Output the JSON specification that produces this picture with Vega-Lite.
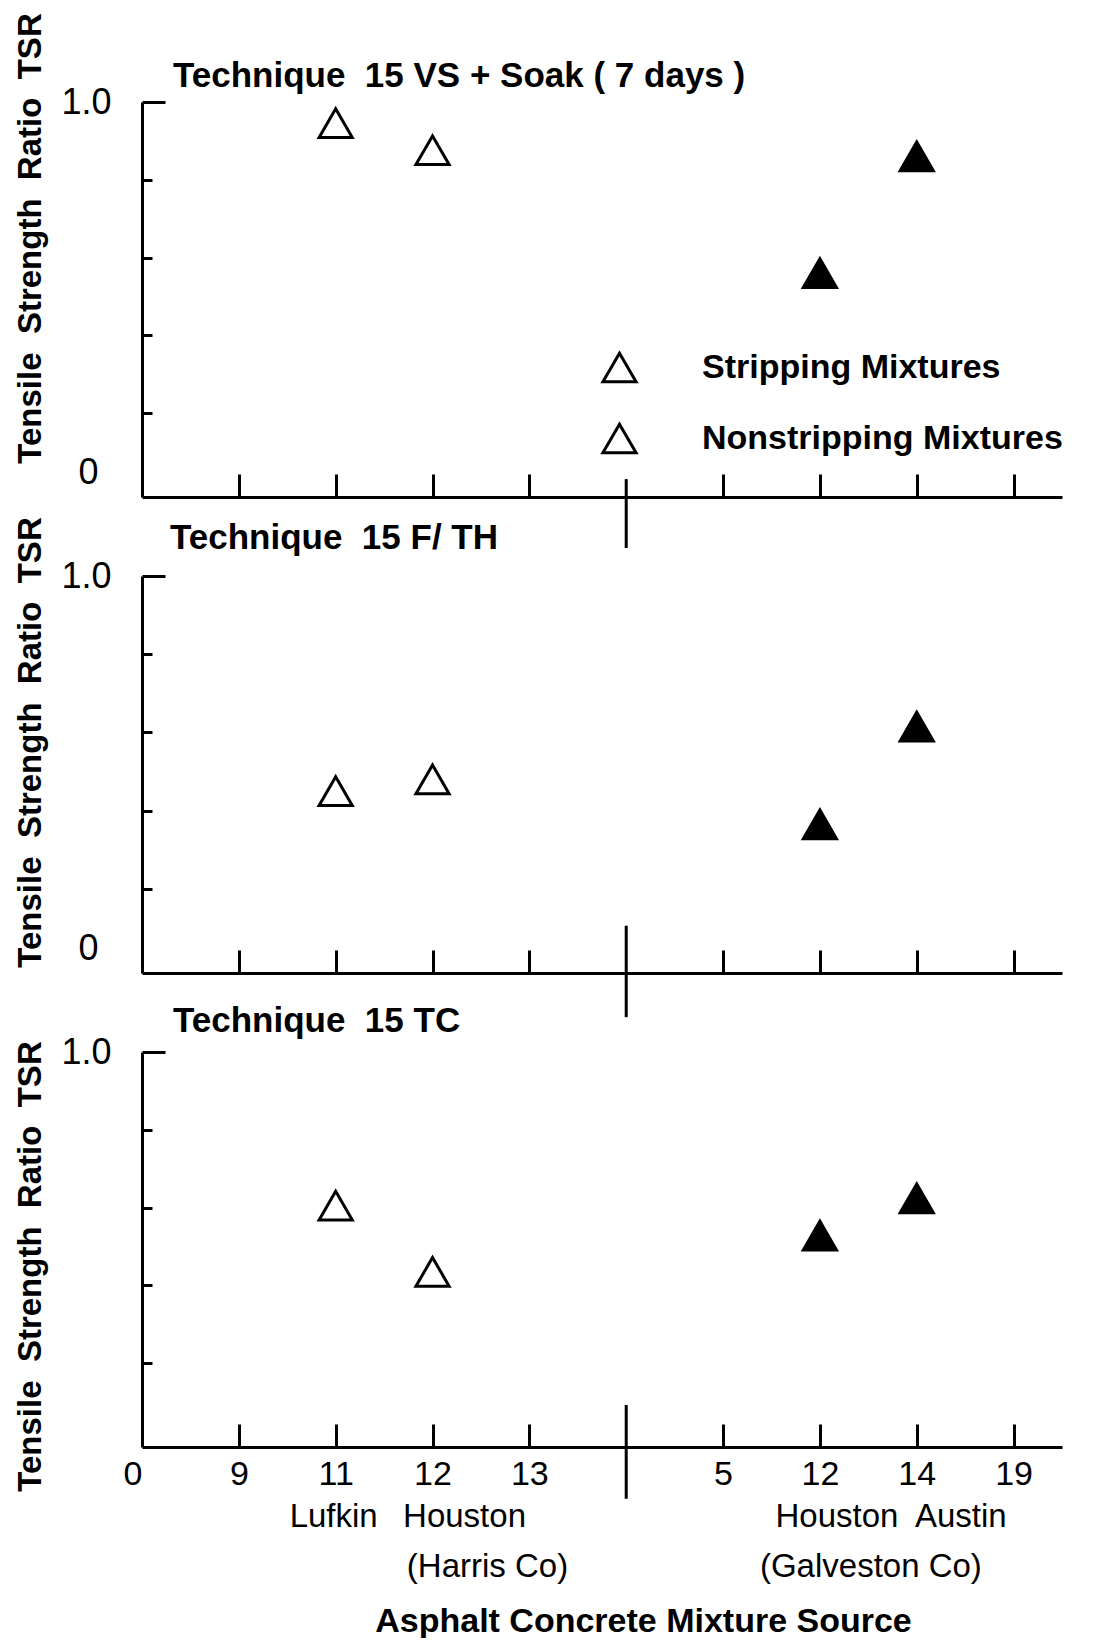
{
  "$schema": "https://vega.github.io/schema/vega-lite/v6.json",
  "background": "white",
  "padding": {"left": 13, "top": 12, "right": 0, "bottom": 0},
  "config": {
    "view": {"stroke": null},
    "font": "Liberation Sans",
    "axis": {"grid": false, "domainColor": "black", "domainWidth": 3, "tickColor": "black", "tickWidth": 3, "labelColor": "black", "titleColor": "black", "labelOverlap": false}
  },
  "datasets": {
    "tsr": [
      {"technique": "VS", "source": "L11", "tsr": 0.946, "mixture": "Stripping Mixtures", "stripping": "yes"},
      {"technique": "VS", "source": "L12", "tsr": 0.876, "mixture": "Stripping Mixtures", "stripping": "yes"},
      {"technique": "VS", "source": "R12", "tsr": 0.56, "mixture": "Nonstripping Mixtures", "stripping": "no"},
      {"technique": "VS", "source": "R14", "tsr": 0.86, "mixture": "Nonstripping Mixtures", "stripping": "no"},
      {"technique": "FTH", "source": "L11", "tsr": 0.45, "mixture": "Stripping Mixtures", "stripping": "yes"},
      {"technique": "FTH", "source": "L12", "tsr": 0.48, "mixture": "Stripping Mixtures", "stripping": "yes"},
      {"technique": "FTH", "source": "R12", "tsr": 0.365, "mixture": "Nonstripping Mixtures", "stripping": "no"},
      {"technique": "FTH", "source": "R14", "tsr": 0.615, "mixture": "Nonstripping Mixtures", "stripping": "no"},
      {"technique": "TC", "source": "L11", "tsr": 0.605, "mixture": "Stripping Mixtures", "stripping": "yes"},
      {"technique": "TC", "source": "L12", "tsr": 0.435, "mixture": "Stripping Mixtures", "stripping": "yes"},
      {"technique": "TC", "source": "R12", "tsr": 0.528, "mixture": "Nonstripping Mixtures", "stripping": "no"},
      {"technique": "TC", "source": "R14", "tsr": 0.624, "mixture": "Nonstripping Mixtures", "stripping": "no"}
    ],
    "places": [
      {"place": "Lufkin", "source": "L11"},
      {"place": "Houston", "source": "L12"},
      {"place": "Houston", "source": "R12"},
      {"place": "Austin", "source": "R14"}
    ],
    "counties": [
      {"county": "(Harris Co)", "source": "L12"},
      {"county": "(Galveston Co)", "source": "R12"}
    ]
  },
  "spacing": 79,
  "bounds": "flush",
  "resolve": {"scale": {"shape": "independent", "fill": "independent"}, "legend": {"shape": "independent", "fill": "independent"}},
  "vconcat": [
    {
      "width": 920,
      "height": 395,
      "layer": [
        {
          "data": {"name": "tsr"},
          "transform": [{"filter": "datum.technique == 'VS'"}],
          "mark": {"type": "point", "size": 1100, "filled": true, "stroke": "black", "strokeWidth": 3, "opacity": 1, "fillOpacity": 1, "strokeOpacity": 1},
          "encoding": {
            "x": {
              "field": "source", "type": "nominal",
              "scale": {"type": "point", "domain": ["O", "L9", "L11", "L12", "L13", "sep", "R5", "R12", "R14", "R19"], "padding": 0.25, "align": 0},
              "axis": {"labels": false, "title": null, "tickSize": -23, "tickOpacity": {"condition": {"test": "datum.value == 'O' || datum.value == 'sep'", "value": 0}, "value": 1}}
            },
            "y": {
              "field": "tsr", "type": "quantitative",
              "scale": {"domain": [-0.015, 1], "nice": false, "zero": false},
              "axis": {
                "values": [0, 0.1, 0.2, 0.3, 0.4, 0.5, 0.6, 0.7, 0.8, 0.9, 1],
                "tickSize": {"condition": {"test": "datum.value == 1 || datum.value == 0.5", "value": -23}, "value": -10},
                "tickOpacity": {"condition": {"test": "datum.value == 0", "value": 0}, "value": 1},
                "labelExpr": "datum.value == 1 ? '1.0' : datum.value == 0.5 ? '0.5' : datum.value == 0 ? '0' : ''",
                "labelFontSize": 36,
                "labelPadding": 54,
                "labelAlign": "right",
                "labelBaseline": {"condition": {"test": "datum.value == 0", "value": "bottom"}, "value": "middle"},
                "title": "Tensile\u00a0 Strength\u00a0 Ratio\u00a0 TSR",
                "titleFontSize": 33, "titleFontWeight": "bold",
                "titleAngle": 270, "titleX": -112, "titleY": 136, "titleBaseline": "middle", "titleAlign": "center"
              }
            },
            "shape": {
              "field": "mixture", "type": "nominal",
              "scale": {"domain": ["Stripping Mixtures", "Nonstripping Mixtures"], "range": ["triangle-up", "triangle-up"]},
              "legend": {
                "title": null, "orient": "none", "legendX": 459, "legendY": 247, "padding": 0,
                "symbolSize": 1100, "symbolStrokeWidth": 3, "symbolStrokeColor": "black", "symbolFillColor": "white",
                "labelFontSize": 34, "labelFontWeight": "bold", "labelColor": "black", "labelOffset": 64, "rowPadding": 30, "labelLimit": 600
              }
            },
            "fill": {
              "field": "stripping", "type": "nominal",
              "scale": {"domain": ["yes", "no"], "range": ["white", "black"]},
              "legend": null
            }
          }
        },
        {
          "data": {"values": [{}]},
          "mark": {"type": "rule", "color": "black", "strokeWidth": 3},
          "encoding": {"x": {"datum": "sep"}, "y": {"datum": -0.146}, "y2": {"datum": 0.031}}
        },
        {
          "data": {"values": [{}]},
          "mark": {"type": "text", "align": "left", "baseline": "middle", "dx": 31, "fontSize": 35, "fontWeight": "bold", "color": "black", "text": "Technique\u00a0 15 VS + Soak ( 7 days )"},
          "encoding": {"x": {"datum": "O"}, "y": {"datum": 1.067}}
        }
      ]
    },
    {
      "width": 920,
      "height": 397,
      "layer": [
        {
          "data": {"name": "tsr"},
          "transform": [{"filter": "datum.technique == 'FTH'"}],
          "mark": {"type": "point", "shape": "triangle-up", "size": 1100, "filled": true, "stroke": "black", "strokeWidth": 3, "opacity": 1, "fillOpacity": 1, "strokeOpacity": 1},
          "encoding": {
            "x": {
              "field": "source", "type": "nominal",
              "scale": {"type": "point", "domain": ["O", "L9", "L11", "L12", "L13", "sep", "R5", "R12", "R14", "R19"], "padding": 0.25, "align": 0},
              "axis": {"labels": false, "title": null, "tickSize": -23, "tickOpacity": {"condition": {"test": "datum.value == 'O' || datum.value == 'sep'", "value": 0}, "value": 1}}
            },
            "y": {
              "field": "tsr", "type": "quantitative",
              "scale": {"domain": [-0.015, 1], "nice": false, "zero": false},
              "axis": {
                "values": [0, 0.1, 0.2, 0.3, 0.4, 0.5, 0.6, 0.7, 0.8, 0.9, 1],
                "tickSize": {"condition": {"test": "datum.value == 1 || datum.value == 0.5", "value": -23}, "value": -10},
                "tickOpacity": {"condition": {"test": "datum.value == 0", "value": 0}, "value": 1},
                "labelExpr": "datum.value == 1 ? '1.0' : datum.value == 0.5 ? '0.5' : datum.value == 0 ? '0' : ''",
                "labelFontSize": 36,
                "labelPadding": 54,
                "labelAlign": "right",
                "labelBaseline": {"condition": {"test": "datum.value == 0", "value": "bottom"}, "value": "middle"},
                "title": "Tensile\u00a0 Strength\u00a0 Ratio\u00a0 TSR",
                "titleFontSize": 33, "titleFontWeight": "bold",
                "titleAngle": 270, "titleX": -112, "titleY": 166, "titleBaseline": "middle", "titleAlign": "center"
              }
            },
            "fill": {
              "field": "stripping", "type": "nominal",
              "scale": {"domain": ["yes", "no"], "range": ["white", "black"]},
              "legend": null
            }
          }
        },
        {
          "data": {"values": [{}]},
          "mark": {"type": "rule", "color": "black", "strokeWidth": 3},
          "encoding": {"x": {"datum": "sep"}, "y": {"datum": -0.128}, "y2": {"datum": 0.106}}
        },
        {
          "data": {"values": [{}]},
          "mark": {"type": "text", "align": "left", "baseline": "middle", "dx": 28, "fontSize": 35, "fontWeight": "bold", "color": "black", "text": "Technique\u00a0 15 F/ TH"},
          "encoding": {"x": {"datum": "O"}, "y": {"datum": 1.098}}
        }
      ]
    },
    {
      "width": 920,
      "height": 395,
      "layer": [
        {
          "data": {"name": "tsr"},
          "transform": [{"filter": "datum.technique == 'TC'"}],
          "mark": {"type": "point", "shape": "triangle-up", "size": 1100, "filled": true, "stroke": "black", "strokeWidth": 3, "opacity": 1, "fillOpacity": 1, "strokeOpacity": 1},
          "encoding": {
            "x": {
              "field": "source", "type": "nominal",
              "scale": {"type": "point", "domain": ["O", "L9", "L11", "L12", "L13", "sep", "R5", "R12", "R14", "R19"], "padding": 0.25, "align": 0},
              "axis": {
                "tickSize": -23,
                "tickOpacity": {"condition": {"test": "datum.value == 'O' || datum.value == 'sep'", "value": 0}, "value": 1},
                "labelExpr": "datum.value == 'O' ? '0' : datum.value == 'sep' ? '' : substring(datum.value, 1)",
                "labelAngle": 0,
                "labelFontSize": 34,
                "labelPadding": 33,
                "labelAlign": {"condition": {"test": "datum.value == 'O'", "value": "right"}, "value": "center"},
                "title": "Asphalt Concrete Mixture Source",
                "titleFontSize": 34, "titleFontWeight": "bold",
                "titleX": 501, "titleY": 174, "titleBaseline": "middle", "titleAlign": "center"
              }
            },
            "y": {
              "field": "tsr", "type": "quantitative",
              "scale": {"domain": [-0.015, 1], "nice": false, "zero": false},
              "axis": {
                "values": [0, 0.1, 0.2, 0.3, 0.4, 0.5, 0.6, 0.7, 0.8, 0.9, 1],
                "tickSize": {"condition": {"test": "datum.value == 1 || datum.value == 0.5", "value": -23}, "value": -10},
                "tickOpacity": {"condition": {"test": "datum.value == 0", "value": 0}, "value": 1},
                "labelExpr": "datum.value == 1 ? '1.0' : datum.value == 0.5 ? '0.5' : ''",
                "labelFontSize": 36,
                "labelPadding": 54,
                "labelAlign": "right",
                "labelBaseline": "middle",
                "title": "Tensile\u00a0 Strength\u00a0 Ratio\u00a0 TSR",
                "titleFontSize": 33, "titleFontWeight": "bold",
                "titleAngle": 270, "titleX": -112, "titleY": 214, "titleBaseline": "middle", "titleAlign": "center"
              }
            },
            "fill": {
              "field": "stripping", "type": "nominal",
              "scale": {"domain": ["yes", "no"], "range": ["white", "black"]},
              "legend": null
            }
          }
        },
        {
          "data": {"values": [{}]},
          "mark": {"type": "rule", "color": "black", "strokeWidth": 3},
          "encoding": {"x": {"datum": "sep"}, "y": {"datum": -0.148}, "y2": {"datum": 0.093}}
        },
        {
          "data": {"values": [{}]},
          "mark": {"type": "text", "align": "left", "baseline": "middle", "dx": 31, "fontSize": 35, "fontWeight": "bold", "color": "black", "text": "Technique\u00a0 15 TC"},
          "encoding": {"x": {"datum": "O"}, "y": {"datum": 1.079}}
        },
        {
          "data": {"name": "places"},
          "transform": [{"filter": "datum.source == 'L11'"}],
          "mark": {"type": "text", "align": "center", "baseline": "middle", "dx": -2, "fontSize": 33, "color": "black"},
          "encoding": {"x": {"field": "source", "type": "nominal"}, "y": {"datum": -0.195}, "text": {"field": "place"}}
        },
        {
          "data": {"name": "places"},
          "transform": [{"filter": "datum.source == 'L12'"}],
          "mark": {"type": "text", "align": "center", "baseline": "middle", "dx": 32, "fontSize": 33, "color": "black"},
          "encoding": {"x": {"field": "source", "type": "nominal"}, "y": {"datum": -0.195}, "text": {"field": "place"}}
        },
        {
          "data": {"name": "places"},
          "transform": [{"filter": "datum.source == 'R12'"}],
          "mark": {"type": "text", "align": "center", "baseline": "middle", "dx": 17, "fontSize": 33, "color": "black"},
          "encoding": {"x": {"field": "source", "type": "nominal"}, "y": {"datum": -0.195}, "text": {"field": "place"}}
        },
        {
          "data": {"name": "places"},
          "transform": [{"filter": "datum.source == 'R14'"}],
          "mark": {"type": "text", "align": "center", "baseline": "middle", "dx": 44, "fontSize": 33, "color": "black"},
          "encoding": {"x": {"field": "source", "type": "nominal"}, "y": {"datum": -0.195}, "text": {"field": "place"}}
        },
        {
          "data": {"name": "counties"},
          "transform": [{"filter": "datum.source == 'L12'"}],
          "mark": {"type": "text", "align": "center", "baseline": "middle", "dx": 55, "fontSize": 33, "color": "black"},
          "encoding": {"x": {"field": "source", "type": "nominal"}, "y": {"datum": -0.323}, "text": {"field": "county"}}
        },
        {
          "data": {"name": "counties"},
          "transform": [{"filter": "datum.source == 'R12'"}],
          "mark": {"type": "text", "align": "center", "baseline": "middle", "dx": 51, "fontSize": 33, "color": "black"},
          "encoding": {"x": {"field": "source", "type": "nominal"}, "y": {"datum": -0.323}, "text": {"field": "county"}}
        }
      ]
    }
  ]
}
